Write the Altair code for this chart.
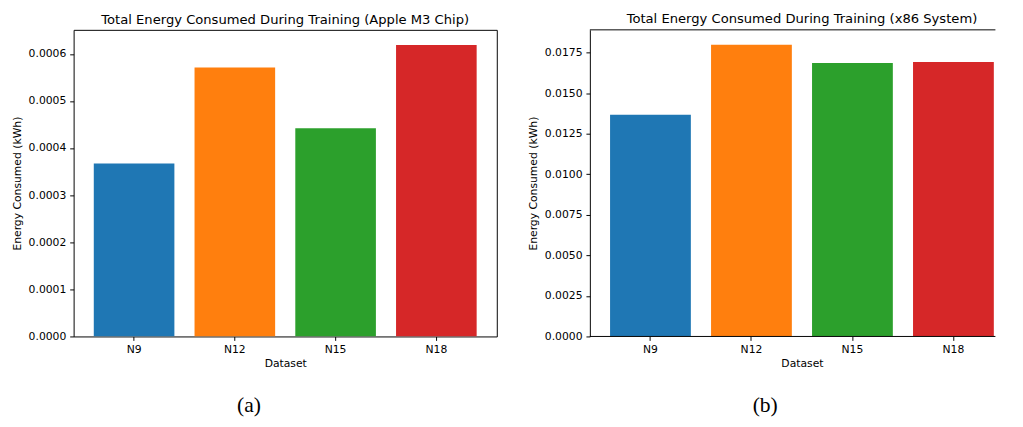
import altair as alt
import pandas as pd

datasets = ["N9", "N12", "N15", "N18"]
m3_energy = [0.000367, 0.000571, 0.000442, 0.000619]
x86_energy = [0.01367, 0.01798, 0.01686, 0.01692]
bar_colors = ["#1f77b4", "#ff7f0e", "#2ca02c", "#d62728"]
m3_ticks = [0.0, 0.0001, 0.0002, 0.0003, 0.0004, 0.0005, 0.0006]
x86_ticks = [0.0, 0.0025, 0.005, 0.0075, 0.01, 0.0125, 0.015, 0.0175]

FONT = "DejaVu Sans"
H = 313


def panel(values, ticks, ymax, title, caption, width, xrange=None, open_right=False):
    df = pd.DataFrame({"Dataset": datasets, "Energy": values})
    if xrange is not None:
        xscale = alt.Scale(domain=datasets, paddingInner=0.2, paddingOuter=0.2, range=xrange)
    else:
        xscale = alt.Scale(domain=datasets, paddingInner=0.2, paddingOuter=0.2)
    bars = alt.Chart(df).mark_bar(clip=True).encode(
        x=alt.X("Dataset:N", scale=xscale, sort=datasets,
                axis=alt.Axis(title="Dataset", labelAngle=0)),
        y=alt.Y("Energy:Q", scale=alt.Scale(domain=[0, ymax], nice=False, zero=True),
                axis=alt.Axis(title="Energy Consumed (kWh)", values=ticks, format=".4f",
                              domain=open_right, domainColor="black", domainWidth=1)),
        color=alt.Color("Dataset:N", scale=alt.Scale(domain=datasets, range=bar_colors), legend=None),
    )
    cap = alt.Chart(pd.DataFrame({"label": [caption]})).mark_text(
        font="Liberation Serif", fontSize=22, baseline="alphabetic", align="center", color="black"
    ).encode(x=alt.value(179), y=alt.value(390.5), text="label:N")
    layers = [bars, cap]
    dx = 0
    if open_right:
        frame = pd.DataFrame({"edge": ["top", "bottom"]})
        top = alt.Chart(frame.iloc[:1]).mark_rule(color="black", strokeWidth=1).encode(
            x=alt.value(0), x2=alt.value(width), y=alt.value(0))
        bottom = alt.Chart(frame.iloc[1:]).mark_rule(color="black", strokeWidth=1).encode(
            x=alt.value(0), x2=alt.value(width), y=alt.value(H))
        layers += [top, bottom]
        dx = (xrange[1] - width) / 2
    props = dict(
        width=width, height=H,
        title=alt.TitleParams(title, fontSize=13.4, font=FONT, fontWeight="normal", color="black",
                              anchor="middle", offset=3.6, dx=dx),
    )
    if open_right:
        props["view"] = alt.ViewBackground(stroke="transparent")
    return alt.layer(*layers).properties(**props)


left = panel(m3_energy, m3_ticks, 0.000651, "Total Energy Consumed During Training (Apple M3 Chip)", "(a)", 432)
right = panel(x86_energy, x86_ticks, 0.0189, "Total Energy Consumed During Training (x86 System)", "(b)", 414,
              xrange=[0, 433], open_right=True)

chart = alt.hconcat(left, right, spacing=30).properties(
    padding={"left": 3, "top": 0, "right": 0, "bottom": 0}
).configure_view(stroke="black", strokeWidth=1).configure_axis(
    labelFont=FONT, labelFontSize=11, labelColor="black",
    titleFont=FONT, titleFontSize=11, titleFontWeight="normal", titleColor="black",
    tickColor="black", tickSize=4, tickWidth=1,
    domain=False, grid=False,
).configure_axisY(titlePadding=6, labelPadding=4).configure_axisX(titlePadding=4, labelPadding=3)

chart.save("out.html", embed_options={"renderer": "svg", "actions": False})
